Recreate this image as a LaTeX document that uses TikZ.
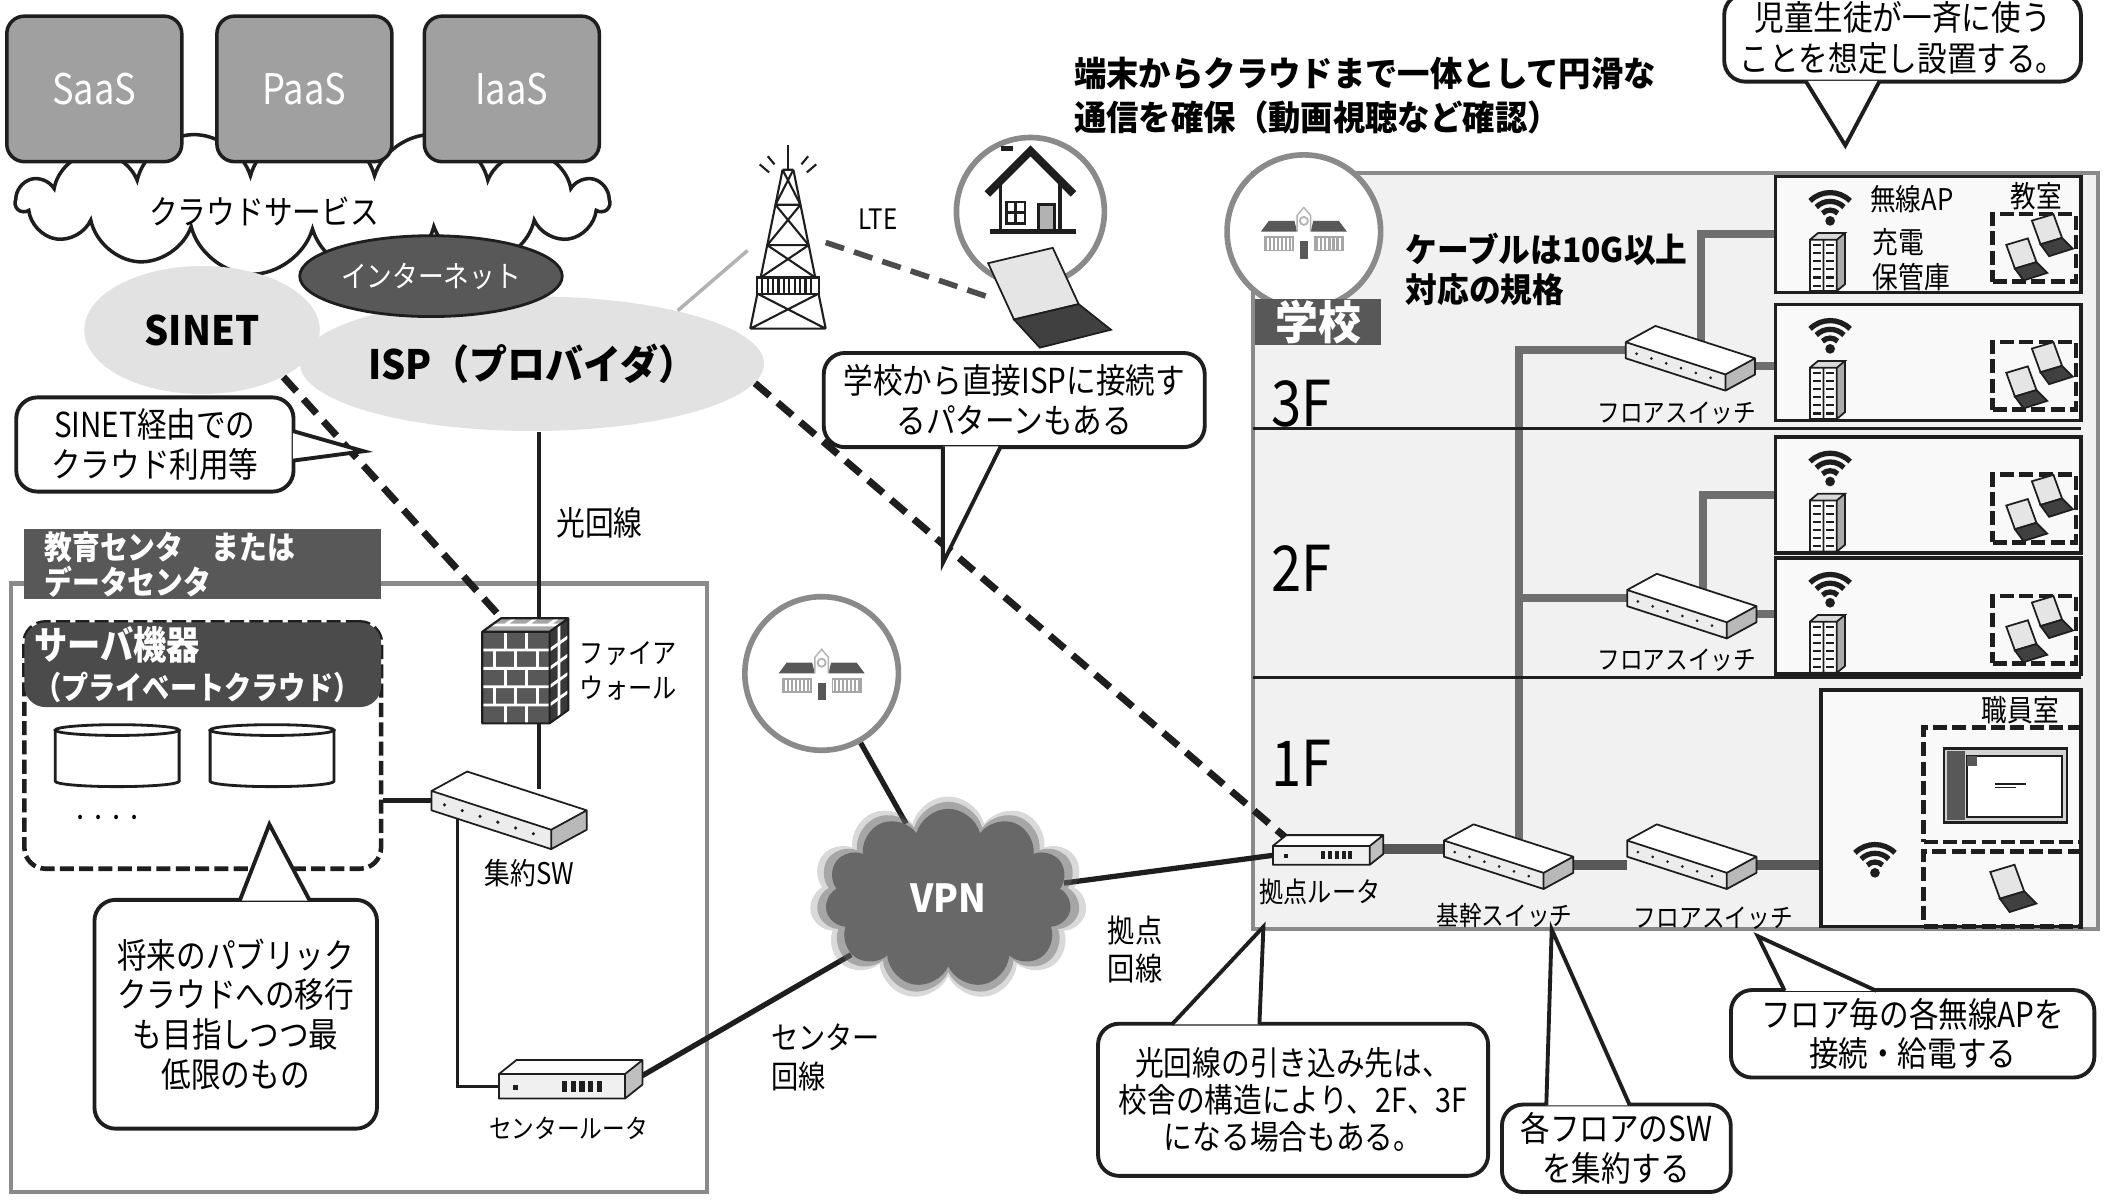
\documentclass[tikz,border=0pt]{standalone}
\usepackage{fontspec}
\setmainfont{Noto Sans CJK JP}[FakeStretch=0.86]
\newfontfamily\futo{Noto Sans CJK JP}[FakeStretch=0.94]
\usetikzlibrary{shapes.geometric, shapes.symbols, positioning, calc}
\definecolor{sumi}{HTML}{1E1E1E}
\definecolor{nezumi}{HTML}{A0A0A0}
\definecolor{koku}{HTML}{585858}
\definecolor{usuzumi}{HTML}{E2E2E2}
\definecolor{kinari}{HTML}{F1F1F1}
\definecolor{heyairo}{HTML}{F9F9F9}
\definecolor{waku}{HTML}{8A8A8A}
\definecolor{kable}{HTML}{6E6E6E}
\definecolor{vpniro}{HTML}{686868}
\newcommand{\fs}[2]{\fontsize{#1}{#2}\selectfont}
\newcommand{\tsuno}[3]{\filldraw[callptr] (#1) -- (#3) -- (#2);}
\pgfdeclarelayer{back}
\pgfdeclarelayer{lines}
\pgfsetlayers{back,lines,main}
\tikzset{
  svc/.style={rectangle, rounded corners=5pt, draw=sumi, line width=1pt, fill=nezumi,
              minimum width=49.8pt, minimum height=41.4pt, text=white, font=\fs{12}{14}},
  blob/.style={ellipse, fill=usuzumi, inner sep=0pt},
  ring/.style={circle, draw=waku, line width=1.6pt, fill=white, minimum size=43.7pt, inner sep=0pt},
  area/.style={rectangle, draw=waku, line width=1.2pt, fill=kinari, inner sep=0pt},
  darkhead/.style={rectangle, fill=koku, text=white, font=\bfseries\fs{9.2}{10}, align=left, inner sep=0pt},
  room/.style={rectangle, draw=sumi, line width=1pt, fill=heyairo, minimum width=87pt, minimum height=33pt, inner sep=0pt},
  pcbox/.style={rectangle, draw=sumi, line width=1.3pt, dash pattern=on 4pt off 1.5pt,
                minimum width=23.7pt, minimum height=19.2pt, inner sep=0pt},
  vpncloud/.style={cloud, cloud puffs=11, cloud ignores aspect, fill=vpniro, inner sep=0pt},
  cable/.style={line width=2.3pt, draw=kable},
  wire/.style={line width=1.5pt, draw=sumi},
  hairwire/.style={line width=0.9pt, draw=sumi},
  dline/.style={line width=2pt, draw=sumi, dash pattern=on 5.5pt off 3pt},
  callbox/.style={rectangle, rounded corners=6pt, draw=sumi, line width=1.1pt, fill=white,
                  align=center, font=\fs{9.8}{11.3}, inner sep=0pt},
  callptr/.style={draw=sumi, line width=1.1pt, fill=white, line join=miter},
  lbl/.style={inner sep=0.5pt, font=\fs{7.5}{9.5}, align=center},
  pics/netsw/.style={code={
    \fill[gray!15] (-48,-4) -- (26,20) -- (26,32) -- (-48,8) -- cycle;
    \fill[gray!55] (26,20) -- (48,8) -- (48,20) -- (26,32) -- cycle;
    \fill[white] (-48,-4) -- (-26,-16) -- (48,8) -- (26,20) -- cycle;
    \draw[sumi, line width=0.5pt, line join=round]
      (-48,-4) -- (-26,-16) -- (48,8) -- (48,20) -- (26,32) -- (-48,8) -- cycle
      (-48,-4) -- (26,20) -- (48,8) (26,20) -- (26,32);
    \foreach \k in {0,...,5} \fill[sumi] ({-40+11*\k},{4.6+3.57*\k}) circle[radius=1.1];
    \coordinate (-l) at (-48,2);
    \coordinate (-r) at (48,14);
    \coordinate (-t) at (8,-5);
    \coordinate (-d) at (-32,13);
  }},
  pics/router/.style={code={
    \fill[gray!12] (-42,-2) rectangle (30,12);
    \fill[white] (-42,-2) -- (-32,-10) -- (40,-10) -- (30,-2) -- cycle;
    \fill[gray!50] (30,-2) -- (40,-10) -- (40,4) -- (30,12) -- cycle;
    \draw[sumi, line width=0.5pt, line join=round]
      (-42,-2) -- (-32,-10) -- (40,-10) -- (40,4) -- (30,12) -- (-42,12) -- cycle
      (-42,-2) -- (30,-2) -- (40,-10) (30,-2) -- (30,12);
    \foreach \k in {0,...,4} \fill[sumi] ({-6+5*\k},2) rectangle ++(3,6);
    \fill[sumi] (-34,4) rectangle ++(3,3);
    \coordinate (-l) at (-42,5);
    \coordinate (-r) at (38,0);
    \coordinate (-t) at (-30,-6);
  }},
  pics/firewall/.style={code={
    \fill[koku] (-32,-28) rectangle (18,40);
    \fill[gray!70] (-32,-28) -- (-18,-38) -- (32,-38) -- (18,-28) -- cycle;
    \fill[gray!45!black] (18,-28) -- (32,-38) -- (32,30) -- (18,40) -- cycle;
    \foreach \r in {1,...,4}
      \draw[white, line width=0.8pt] (-32,{-28+13.6*\r}) -- (18,{-28+13.6*\r}) -- (32,{-38+13.6*\r});
    \foreach \r in {0,2,4}
      \draw[white, line width=0.8pt] (-15,{-28+13.6*\r}) -- ++(0,13.6) (1,{-28+13.6*\r}) -- ++(0,13.6);
    \foreach \r in {1,3}
      \draw[white, line width=0.8pt] (-23,{-28+13.6*\r}) -- ++(0,13.6) (-7,{-28+13.6*\r}) -- ++(0,13.6) (9,{-28+13.6*\r}) -- ++(0,13.6);
    \draw[white, line width=0.8pt] (-25,-33) -- (25,-33) (-8,-38) -- (-15,-33) (8,-38) -- (1,-33) (24,-38) -- (17,-33) (25,-33) -- (25,35);
    \draw[sumi, line width=0.6pt, line join=round]
      (-32,-28) -- (-18,-38) -- (32,-38) -- (32,30) -- (18,40) -- (-32,40) -- cycle
      (-32,-28) -- (18,-28) -- (32,-38) (18,-28) -- (18,40);
    \coordinate (-t) at (10,-33);
    \coordinate (-tl) at (-14,-34);
    \coordinate (-b) at (10,40);
  }},
  pics/disk/.style={code={
    \filldraw[fill=white, draw=sumi, line width=0.8pt] (-46,-19) -- (-46,19)
      arc[start angle=180, end angle=0, x radius=46, y radius=4] -- (46,-19);
    \filldraw[fill=white, draw=sumi, line width=0.8pt] (0,-19) ellipse[x radius=46, y radius=4];
  }},
  pics/wifi/.style={code={
    \fill[sumi] (0,10) circle[radius=3.6];
    \foreach \rr in {8,14.5,21}
      \draw[sumi, line width=1.5pt] ($(0,10)+(225:\rr)$) arc[start angle=225, end angle=315, radius=\rr];
  }},
  pics/cabinet/.style={code={
    \fill[white] (-12,-16) rectangle (8,22);
    \fill[gray!30] (-12,-16) -- (-6,-21) -- (14,-21) -- (8,-16) -- cycle;
    \fill[gray!65] (8,-16) -- (14,-21) -- (14,17) -- (8,22) -- cycle;
    \draw[sumi, line width=0.5pt] (-12,-16) rectangle (8,22)
      (-12,-16) -- (-6,-21) -- (14,-21) -- (8,-16) (14,-21) -- (14,17) -- (8,22) (-2,-16) -- (-2,22);
    \foreach \k in {0,...,5}
      \draw[sumi, line width=0.6pt] (-10,{-12+6*\k}) -- (-4,{-12+6*\k}) (0,{-12+6*\k}) -- (6,{-12+6*\k});
  }},
  pics/laptop/.style={code={
    \filldraw[fill=gray!20, draw=sumi, line width=0.5pt] (-16,-14) -- (4,-20) -- (12,2) -- (-8,8) -- cycle;
    \filldraw[fill=sumi!85, draw=sumi, line width=0.5pt] (-8,8) -- (12,2) -- (22,12) -- (0,19) -- cycle;
    \coordinate (-edge) at (-14,0);
  }},
  pics/tower/.style={code={
    \begin{scope}[draw=sumi, line width=0.6pt]
      \draw (0,-74) -- (0,-56);
      \draw (-4,-56) -- (-28,62) (4,-56) -- (28,62) (-4,-56) -- (4,-56);
      \foreach \ya/\wa/\yb/\wb in {-56/4/-30/9.3, -30/9.3/0/15.4, 0/15.4/24/20.3, 36/22.7/62/28}
        \draw (-\wa,\ya) -- (\wb,\yb) (\wa,\ya) -- (-\wb,\yb) (-\wb,\yb) -- (\wb,\yb);
      \filldraw[fill=white] (-23,24) rectangle (23,36);
      \foreach \k in {-19,-15,...,19} \draw (\k,24) -- (\k,36);
      \draw (-10,-60) -- (-15,-66) (10,-60) -- (15,-66) (-14,-54) -- (-21,-60) (14,-54) -- (21,-60);
    \end{scope}
    \coordinate (-l) at (-30,4);
    \coordinate (-r) at (28,-2);
  }},
  pics/house/.style={code={
    \draw[sumi, line width=2.2pt, line join=miter] (-32,-6) -- (0,-38) -- (32,-6);
    \draw[sumi, line width=1.4pt] (-22,-40) -- (-13,-40);
    \draw[sumi, line width=0.9pt] (-22,-15) -- (-22,22) (22,-15) -- (22,22);
    \draw[sumi, line width=0.8pt] (-18,0) rectangle (-4,16) (-11,0) -- (-11,16) (-18,8) -- (-4,8);
    \filldraw[fill=gray!60, draw=sumi, line width=0.8pt] (6,2) rectangle (18,22);
    \draw[sumi, line width=1.6pt] (-30,22) -- (34,22);
  }},
  pics/gakko/.style={code={
    \fill[koku] (-32,-4) -- (-26,-12) -- (-7,-12) -- (-5,-4) -- cycle;
    \fill[koku] (32,-4) -- (26,-12) -- (7,-12) -- (5,-4) -- cycle;
    \filldraw[fill=white, draw=gray!60, line width=0.4pt] (-5,-4) -- (-5,-16) -- (0,-22) -- (5,-16) -- (5,-4);
    \draw[gray!60, line width=0.5pt] (0,-12) circle[radius=3];
    \foreach \k in {-28,-25,...,-10} \draw[gray!70, line width=0.6pt] (\k,0) -- (\k,10);
    \foreach \k in {10,13,...,28} \draw[gray!70, line width=0.6pt] (\k,0) -- (\k,10);
    \draw[gray!70, line width=0.5pt] (-29,0) rectangle (-8,10) (8,0) rectangle (29,10);
    \fill[koku] (-3,3) rectangle (3,16);
  }},
  pics/monitor/.style={code={
    \filldraw[fill=gray!35, draw=sumi, line width=0.8pt] (-46,-28) rectangle (50,30);
    \fill[koku] (-44,-26) rectangle (-30,28);
    \filldraw[fill=white, draw=sumi, line width=0.6pt] (-28,-22) rectangle (46,26);
    \fill[koku] (-28,-22) rectangle (-20,-14);
    \draw[sumi, line width=0.4pt] (-6,0) -- (18,0) (-6,3) -- (10,3);
  }}
}

\begin{document}
\begin{tikzpicture}[x=0.1347mm, y=-0.1347mm]
  \useasboundingbox (0,0) rectangle (1568,891);
  \begin{pgfonlayer}{back}
    \fill[white] (0,0) rectangle (1568,891);
    \node (cloudsvc) [cloud, cloud puffs=15, cloud ignores aspect, draw=sumi, line width=1pt, fill=white,
                      minimum width=168.5pt, minimum height=42pt] at (232,150) {};
    \node (sinet) [blob, minimum width=67pt, minimum height=36.4pt, font=\futo\bfseries\fs{11.5}{13}] at (150,245) {SINET};
    \node (isp) [blob, minimum width=97.7pt, minimum height=38.3pt, font=\futo\bfseries\fs{11.5}{13}] at (395,270) {ISP（プロバイダ）};
    \node (campus) [area, minimum width=240.5pt, minimum height=215.2pt] at (1244,409) {};
    \node (dc) [area, fill=white, minimum width=198pt, minimum height=173.1pt] at (266.5,659) {};
  \end{pgfonlayer}

  % cloud services
  \node (saas) [svc] at (70,66) {SaaS};
  \node (paas) [svc] at (226,66) {PaaS};
  \node (iaas) [svc] at (380,66) {IaaS};
  \node (cloudlbl) [font=\fs{9.5}{11}] at (196,157) {クラウドサービス};
  \node (inet) [ellipse, draw=sumi, line width=0.8pt, fill=koku, minimum width=74.7pt, minimum height=23pt,
                inner sep=0pt, text=white, font=\fs{8.5}{10}] at (320,205) {インターネット};

  % LTE and home
  \pic (tower) at (585,182) {tower};
  \node (lte) [lbl, font=\fs{8}{10}] at (652,163) {LTE};
  \node (home) [ring, minimum size=42.1pt] at (765,157) {};
  \pic at (765,150) {house};
  \pic[xscale=2.4, yscale=1.9] (homepc) at (772,222) {laptop};
  \node (motto) [anchor=west, align=left, inner sep=0pt, font=\futo\bfseries\fs{9.8}{12.6}] at (797,71)
    {端末からクラウドまで一体として円滑な\\通信を確保（動画視聴など確認）};

  % school
  \node (school) [ring] at (968,172) {};
  \pic at (968,176) {gakko};
  \node (gakko) [darkhead, align=center, font=\futo\bfseries\fs{13}{14}, minimum width=35.6pt, minimum height=13pt] at (978.5,239) {学校};
  \node (note10g) [anchor=west, align=left, inner sep=0pt, font=\futo\bfseries\fs{9.6}{11.5}] at (1043,200)
    {ケーブルは10G以上\\対応の規格};
  \draw[hairwire] (930,318) -- (1545,318);
  \draw[hairwire] (930,503) -- (1545,503);
  \node (f3) [inner sep=0pt, font=\fs{18}{20}] at (966,300) {3F};
  \node (f2) [inner sep=0pt, font=\fs{18}{20}] at (966,422) {2F};
  \node (f1) [inner sep=0pt, font=\fs{18}{20}] at (966,567) {1F};

  \node (room3a) [room] at (1431.5,174) {};
  \node (room3b) [room] at (1431.5,269) {};
  \node (room2a) [room] at (1431.5,367.5) {};
  \node (room2b) [room] at (1431.5,457.5) {};
  \node (staff) [room, minimum width=73.9pt, minimum height=67.4pt] at (1448.5,600) {};
  \foreach \heya in {room3a, room3b, room2a, room2b} {
    \pic at ($(\heya.west)+(42,-20)$) {wifi};
    \pic at ($(\heya.west)+(39,20)$) {cabinet};
    \node (pc-\heya) [pcbox] at ($(\heya.east)+(-36,10)$) {};
    \pic[scale=0.8] at ($(pc-\heya)+(11,-9)$) {laptop};
    \pic[scale=0.8] at ($(pc-\heya)+(-8,9)$) {laptop};
  }
  \node (aplbl) [anchor=west, inner sep=0pt, font=\fs{8.5}{10}] at (1388,148) {無線AP};
  \node (kyoshitsu) [lbl, font=\fs{8.5}{10}] at (1512,146) {教室};
  \node (hokanko) [anchor=west, align=left, inner sep=0pt, font=\fs{8.5}{10}] at (1390,193) {充電\\保管庫};
  \node (stafflbl) [lbl, font=\fs{8.5}{10}] at (1500,527) {職員室};
  \node (pcA) [pcbox, minimum width=44.8pt, minimum height=32.6pt] at (1486.5,582.5) {};
  \pic[scale=0.95] at (1487,582) {monitor};
  \node (pcB) [pcbox, minimum width=44.8pt, minimum height=21.4pt] at (1486.5,660) {};
  \pic[scale=0.9] at (1492,660) {laptop};
  \pic at (1392,638) {wifi};

  \pic (sw3) at (1255,258) {netsw};
  \pic (sw2) at (1256,442) {netsw};
  \pic (brt) at (987,630) {router};
  \pic (core) at (1120,628) {netsw};
  \pic (fsw1) at (1256,628) {netsw};
  \node (sw3lbl) [lbl] at (1245,307) {フロアスイッチ};
  \node (sw2lbl) [lbl] at (1245,490) {フロアスイッチ};
  \node (brtlbl) [lbl, font=\fs{8}{10}] at (980,662) {拠点ルータ};
  \node (corelbl) [lbl] at (1117,680) {基幹スイッチ};
  \node (fsw1lbl) [lbl] at (1272,682) {フロアスイッチ};

  % data centre
  \node (dchead) [darkhead, minimum width=101.5pt, minimum height=19.9pt, text width=90pt] at (150.5,419)
    {教育センタ　または\\データセンタ};
  \node (srv) [rectangle, rounded corners=6pt, draw=sumi, line width=1.3pt, dash pattern=on 4pt off 1.5pt,
               fill=white, minimum width=101.5pt, minimum height=70.1pt] at (150.5,553.5) {};
  \node (srvhead) [darkhead, rounded corners=6pt, fill=koku!85!black, minimum width=101.5pt, minimum height=24.1pt,
                   text width=96pt, font=\bfseries\fs{11}{11.5}] at (150.5,493.5)
    {サーバ機器\\{\fs{9}{11.5}（プライベートクラウド）}};
  \pic (disk1) at (87,561) {disk};
  \pic (disk2) at (202,561) {disk};
  \node (dots) [inner sep=0pt, font=\fs{6}{7}] at (80,609) {・・・・};
  \pic (fw) at (390,497) {firewall};
  \pic[scale=1.2] (aggsw) at (378,592) {netsw};
  \pic[scale=1.3] (crt) at (425,800) {router};
  \node (hikari) [lbl, font=\fs{9.5}{11}] at (445,388) {光回線};
  \node (fwlbl) [anchor=west, align=left, inner sep=0pt, font=\fs{8}{10}] at (430,498) {ファイア\\ウォール};
  \node (agglbl) [lbl, font=\fs{8.5}{10}] at (393,648) {集約SW};
  \node (crtlbl) [lbl] at (422,838) {センタールータ};
  \node (ctrline) [anchor=west, align=left, inner sep=0pt, font=\fs{9}{11.3}] at (572,785) {センター\\回線};
  \node (brtline) [anchor=west, align=left, inner sep=0pt, font=\fs{9}{11}] at (822,705) {拠点\\回線};

  % VPN
  \node (school2) [ring] at (610,500) {};
  \pic at (610,504) {gakko};
  \node (vpnhaze1) [vpncloud, opacity=0.25, minimum width=79pt, minimum height=58pt] at (704,667) {};
  \node (vpnhaze2) [vpncloud, opacity=0.45, minimum width=75pt, minimum height=55pt] at (704,667) {};
  \node (vpn) [vpncloud, minimum width=70pt, minimum height=51pt,
               text=white, font=\futo\bfseries\fs{11}{12}] at (704,667) {VPN};

  \begin{pgfonlayer}{lines}
    \draw[cable] (core-t) |- (sw3-l);
    \draw[cable] (core-t |- sw2-l) -- (sw2-l);
    \draw[cable] (sw3-t) |- (room3a.west);
    \draw[cable] (sw3-r) -- (sw3-r -| room3b.west);
    \draw[cable] (sw2-t) |- (room2a.west);
    \draw[cable] (sw2-r) -- (sw2-r -| room2b.west);
    \draw[cable, line width=2.8pt, draw=koku] (brt-r) -- (core-l);
    \draw[cable, line width=2.8pt, draw=koku] (core-r) -- (core-r -| fsw1-l);
    \draw[cable, line width=2.8pt, draw=koku] (fsw1-r) -- (fsw1-r -| staff.west);
    \draw[wire, line width=1.2pt] (fw-t) -- (fw-t |- isp.south);
    \draw[wire, line width=1.2pt] (fw-b) -- (fw-b |- aggsw-t);
    \draw[wire, line width=1.6pt] (aggsw-l) -- (aggsw-l -| srv.east);
    \draw[hairwire] (aggsw-d) |- (crt-l);
    \draw[wire] (crt-r) -- (vpn);
    \draw[wire] (school2) -- (vpn);
    \draw[wire] (vpn) -- (brt-l);
    \draw[dline] (sinet.-30) -- (fw-tl);
    \draw[dline] (isp.-5) -- (brt-t);
    \draw[dline, line width=1.6pt, draw=gray!60!black] (tower-r) -- (homepc-edge);
    \draw[line width=1pt, draw=gray!60] (isp.20) -- (tower-l);
  \end{pgfonlayer}

  % callouts
  \node (c1) [callbox, minimum width=78.9pt, minimum height=26.8pt] at (115,330) {SINET経由での\\クラウド利用等};
  \coordinate (c1tip) at (270,335);
  \tsuno{$(c1.east)+(-2,-10)$}{$(c1.east)+(-2,12)$}{c1tip}
  \node (c2) [callbox, minimum width=108.4pt, minimum height=26.8pt] at (753,297) {学校から直接ISPに接続す\\るパターンもある};
  \coordinate (c2tip) at (700,418);
  \tsuno{$(c2.south)+(-53,-2)$}{$(c2.south)+(-10,-2)$}{c2tip}
  \node (c3) [callbox, minimum width=80.4pt, minimum height=65.1pt] at (175,753)
    {将来のパブリック\\クラウドへの移行\\も目指しつつ最\\低限のもの};
  \coordinate (c3tip) at (200,612);
  \tsuno{$(c3.north)+(3,2)$}{$(c3.north)+(55,2)$}{c3tip}
  \node (c4) [callbox, minimum width=111pt, minimum height=43.3pt, font=\fs{9.5}{10.6}] at (960,816.5)
    {光回線の引き込み先は、\\校舎の構造により、2F、3F\\になる場合もある。};
  \coordinate (c4tip) at (938,688);
  \tsuno{$(c4.north)+(-90,2)$}{$(c4.north)+(-25,2)$}{c4tip}
  \node (c5) [callbox, minimum width=65.1pt, minimum height=24.9pt] at (1200,852.5) {各フロアのSW\\を集約する};
  \coordinate (c5tip) at (1152,690);
  \tsuno{$(c5.north)+(-52,2)$}{$(c5.north)+(10,2)$}{c5tip}
  \node (c6) [callbox, minimum width=103.4pt, minimum height=24.9pt] at (1420,767.5) {フロア毎の各無線APを\\接続・給電する};
  \coordinate (c6tip) at (1305,695);
  \tsuno{$(c6.north)+(-95,2)$}{$(c6.north)+(-27,2)$}{c6tip}
  \node (c7) [callbox, minimum width=101.5pt, minimum height=25pt, font=\fs{9.8}{11.5}] at (1412.5,28)
    {児童生徒が一斉に使う\\ことを想定し設置する。};
  \coordinate (c7tip) at (1370,108);
  \tsuno{$(c7.south)+(-72,-2)$}{$(c7.south)+(-17,-2)$}{c7tip}
\end{tikzpicture}
\end{document}
